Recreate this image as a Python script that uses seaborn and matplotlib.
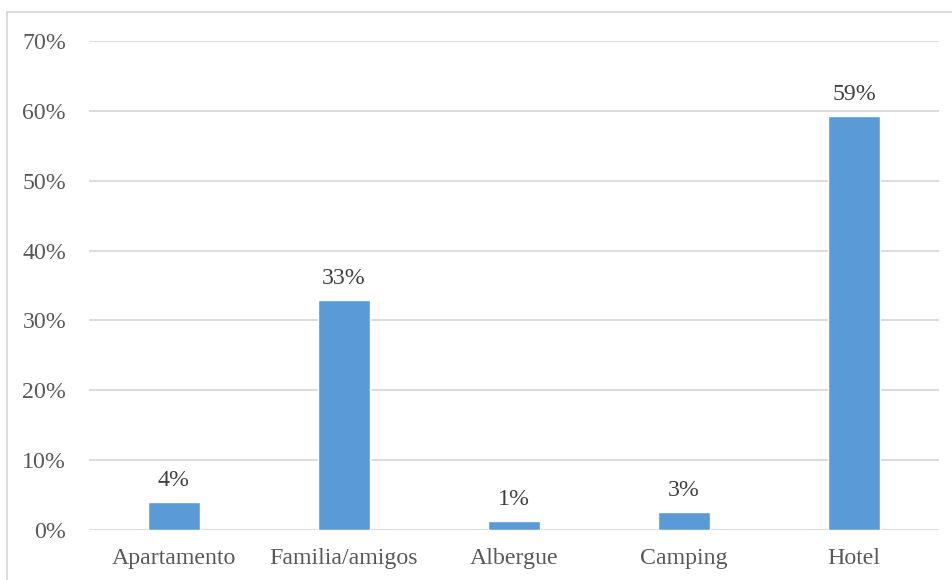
import matplotlib
matplotlib.use("Agg")
import matplotlib.pyplot as plt
from matplotlib.patches import Rectangle
from matplotlib.ticker import MultipleLocator, FuncFormatter
import seaborn as sns
import pandas as pd

# Accommodation type shares (fraction of respondents)
categories = ["Apartamento", "Familia/amigos", "Albergue", "Camping", "Hotel"]
shares = [0.040, 0.329, 0.013, 0.026, 0.592]

sns.set_style("white")
plt.rcParams["font.family"] = ["Liberation Serif", "DejaVu Serif"]

W, H = 953, 580
fig = plt.figure(figsize=(W / 100, H / 100), dpi=100)
ax = fig.add_axes([89 / W, 1 - 530 / H, (939 - 89) / W, (530 - 41) / H])

df = pd.DataFrame({"tipo": categories, "share": shares})
sns.barplot(data=df, x="tipo", y="share", color="#5B9BD5", saturation=1,
            width=0.31, ax=ax, zorder=3)

ax.set_ylim(0, 0.70)
ax.set_xlim(-0.5, len(categories) - 0.5)
ax.yaxis.set_major_locator(MultipleLocator(0.10))
ax.yaxis.set_major_formatter(FuncFormatter(lambda v, _: f"{v * 100:.0f}%"))
ax.grid(axis="y", color="#D9D9D9", linewidth=1.3, zorder=0)
ax.set_axisbelow(True)
for s in ax.spines.values():
    s.set_visible(False)
ax.set_xlabel("")
ax.set_ylabel("")
ax.tick_params(axis="both", length=0, labelsize=17.2, colors="#595959")
ax.tick_params(axis="y", pad=16.5)
ax.tick_params(axis="x", pad=13)

# Value labels above each bar
for i, v in enumerate(shares):
    ax.annotate(f"{v * 100:.0f}%", (i, v), xytext=(0, 8), textcoords="offset points",
                ha="center", va="bottom", fontsize=17.2, color="#404040")

# Chart area outline
fig.patches.append(Rectangle((7 / W, -0.1), 1.2, 1 - 12 / H + 0.1,
                             transform=fig.transFigure, fill=False,
                             edgecolor="#D9D9D9", linewidth=1.3))

fig.savefig("out.png", dpi=100)
